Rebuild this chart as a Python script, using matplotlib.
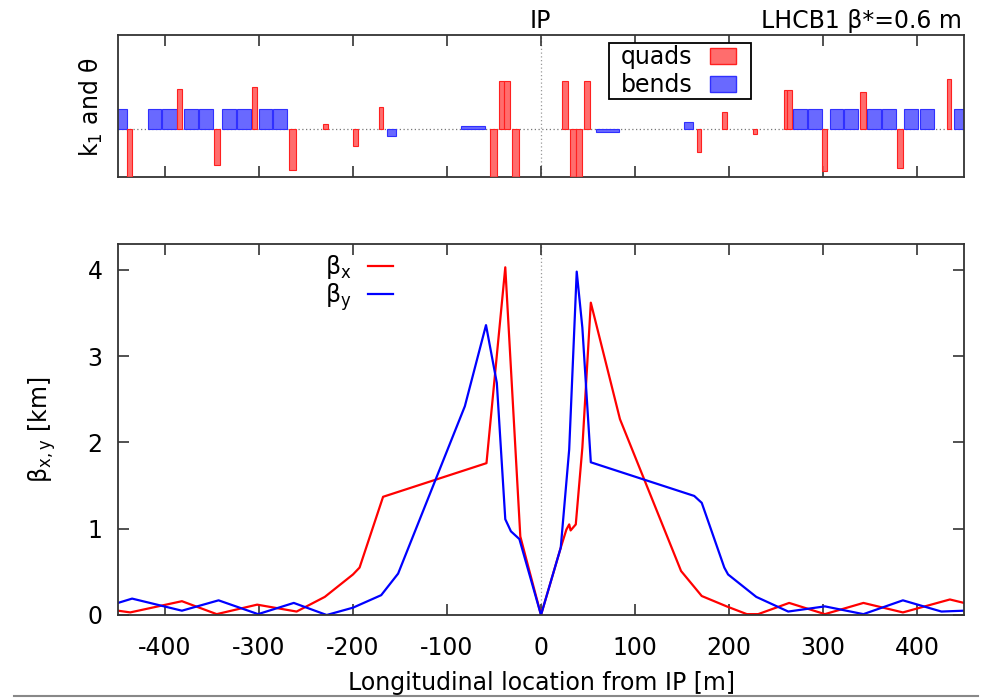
import matplotlib
matplotlib.use("Agg")
import matplotlib.pyplot as plt
from matplotlib.lines import Line2D
from matplotlib.patches import Patch, Rectangle

plt.rcParams['font.family'] = ['DejaVu Sans']
plt.rcParams['mathtext.fontset'] = 'dejavusans'
plt.rcParams['axes.unicode_minus'] = False

# ---------------- data ----------------
# quadrupoles: start [m], end [m], strength (arb. units)
quad_start = [-440, -387, -348, -307, -268, -232, -200, -172, -54, -45, -39, -31,
              22, 31, 37, 46, 166, 193, 225, 258, 262, 299, 339, 379, 432]
quad_end   = [-435, -382, -341, -302, -261, -227, -195, -168, -47, -39, -33, -23,
              29, 37, 44, 52, 170, 198, 230, 262, 267, 304, 346, 385, 436]
quad_k     = [-60, 40, -36, 42, -41, 5, -17, 22, -60, 48, 48, -60,
              48, -60, -60, 48, -23, 17, -5, 39, 39, -42, 37, -39, 50]

# bends: start [m], end [m], angle (arb. units)
bend_start = [-455, -418, -403, -380, -364, -339, -323, -300, -285, -164, -85, 58,
              152, 268, 284, 307, 322, 347, 363, 386, 403, 439]
bend_end   = [-440, -404, -387, -365, -349, -324, -309, -286, -270, -154, -60, 83,
              162, 283, 299, 321, 337, 362, 378, 401, 418, 455]
bend_theta = [20, 20, 20, 20, 20, 20, 20, 20, 20, -7, 3, -3,
              7, 20, 20, 20, 20, 20, 20, 20, 20, 20]

# beta functions [km]
s_x = [-450, -437, -382, -345, -302, -260, -230, -200, -193, -168, -58, -38, -22, 0,
       21, 27, 30, 31.5, 37, 44, 53, 84, 149, 171, 197.5, 219, 231, 264, 302, 343,
       385, 435, 450]
beta_x = [0.05, 0.03, 0.16, 0.01, 0.12, 0.04, 0.21, 0.47, 0.55, 1.37, 1.76, 4.03, 0.91, 0.0,
          0.78, 0.99, 1.05, 0.98, 1.05, 1.94, 3.62, 2.27, 0.51, 0.22, 0.10, 0.01, 0.01, 0.14,
          0.01, 0.14, 0.03, 0.18, 0.14]

s_y = [-450, -435, -382, -343, -301, -263, -228, -200, -170, -152, -81, -58.5, -47, -38,
       -32, -23, 0, 21, 30, 38, 44, 53, 163, 171, 195, 199, 229, 263, 302, 343, 385, 426, 450]
beta_y = [0.14, 0.19, 0.05, 0.17, 0.01, 0.14, 0.0, 0.085, 0.23, 0.48, 2.42, 3.36, 2.69, 1.11,
          0.97, 0.88, 0.0, 0.78, 1.92, 3.98, 3.33, 1.77, 1.38, 1.30, 0.55, 0.47, 0.21, 0.04,
          0.10, 0.01, 0.17, 0.04, 0.05]

xticks = [-400, -300, -200, -100, 0, 100, 200, 300, 400]
yticks = [0, 1, 2, 3, 4]

# ---------------- figure ----------------
W, H = 992, 699
fig = plt.figure(figsize=(W / 100, H / 100), dpi=100)

def px_axes(l, t, r, b):
    return fig.add_axes([l / W, 1 - b / H, (r - l) / W, (b - t) / H])

frame_col = '#333333'
FS = 17

ax1 = px_axes(118, 35, 964, 177)
ax2 = px_axes(118, 244, 964, 615)

for ax in (ax1, ax2):
    for sp in ax.spines.values():
        sp.set_color(frame_col)
        sp.set_linewidth(1.3)
    ax.set_xlim(-450, 450)
    ax.set_xticks(xticks)

# top panel: lattice
qfill = (1.0, 0.33, 0.33, 0.85)
bfill = (0.33, 0.33, 1.0, 0.88)
ax1.axhline(0, color='#777777', lw=0.9, ls=(0, (1, 2)), zorder=0)
ax1.axvline(0, color='#999999', lw=0.9, ls=(0, (1, 2)), zorder=0)
ax1.bar(bend_start, bend_theta, width=[e - s for s, e in zip(bend_start, bend_end)],
        align='edge', color=bfill, edgecolor='#3030ff', linewidth=0.8, zorder=2)
ax1.bar(quad_start, quad_k, width=[e - s for s, e in zip(quad_start, quad_end)],
        align='edge', color=qfill, edgecolor='#ff2020', linewidth=0.8, zorder=3)
ax1.set_ylim(-48, 94)
ax1.set_yticks([])
ax1.tick_params(axis='x', which='both', direction='in', top=True, bottom=True,
                labelbottom=False, length=8, width=1.2, color=frame_col)

# legend frame (drawn separately to match padding)
ax1.add_patch(Rectangle((609 / W, 1 - 99 / H), (751 - 609) / W, (99 - 43) / H,
                        transform=fig.transFigure, facecolor='white', clip_on=False,
                        edgecolor='black', linewidth=1.3, zorder=4))
leg1 = ax1.legend(handles=[Patch(facecolor=qfill, edgecolor='#ff2020', label='quads'),
                           Patch(facecolor=bfill, edgecolor='#3030ff', label='bends')],
                  loc='upper right', bbox_to_anchor=(736 / W, 1 - 45 / H),
                  bbox_transform=fig.transFigure, markerfirst=False, fontsize=FS,
                  frameon=False, borderpad=0, labelspacing=0.17, handlelength=1.1,
                  handleheight=0.65, handletextpad=0.75, borderaxespad=0)
leg1.set_zorder(6)

fig.text(91 / W, 1 - 107 / H, r'k$_1$ and θ', rotation=90, ha='center', va='center',
         fontsize=FS)
fig.text(540 / W, 1 - 21 / H, 'IP', ha='center', va='center', fontsize=FS)
fig.text(962 / W, 1 - 21 / H, 'LHCB1 β*=0.6 m', ha='right', va='center', fontsize=FS)

# bottom panel: beta functions
ax2.axvline(0, color='#999999', lw=0.9, ls=(0, (1, 2)), zorder=0)
lx, = ax2.plot(s_x, beta_x, color='#ff0000', lw=1.6, label=r'$\mathregular{\beta_x}$')
ly, = ax2.plot(s_y, beta_y, color='#0000ff', lw=1.6, label=r'$\mathregular{\beta_y}$')
ax2.set_ylim(0, 4.3)
ax2.set_yticks(yticks)
ax2.tick_params(axis='both', which='both', direction='in', top=True, right=True,
                length=8, width=1.2, color=frame_col, labelsize=FS)
ax2.tick_params(axis='x', pad=15)
ax2.tick_params(axis='y', pad=11)
ax2.set_xlabel('Longitudinal location from IP [m]', fontsize=FS)
ax2.xaxis.set_label_coords(0.5, (615 - 683) / 371)
ax2.xaxis.label.set_va('center')
ax2.set_ylabel(r'$\mathregular{\beta_{x,y}}$ [km]', fontsize=FS)
ax2.yaxis.set_label_coords((42 - 118) / 846, 0.5)
ax2.yaxis.label.set_va('center')

leg2 = ax2.legend(handles=[lx, ly], loc='upper right',
                  bbox_to_anchor=(393 / W, 1 - 253 / H), bbox_transform=fig.transFigure,
                  markerfirst=False, frameon=False, fontsize=FS, borderpad=0,
                  borderaxespad=0, labelspacing=0.0, handlelength=1.05,
                  handletextpad=0.7)

# bottom separator line
fig.add_artist(Line2D([14 / W, 978 / W], [1 - 696 / H, 1 - 696 / H],
                      color='#888888', lw=1.5, transform=fig.transFigure))

fig.savefig('out.png', dpi=100)
